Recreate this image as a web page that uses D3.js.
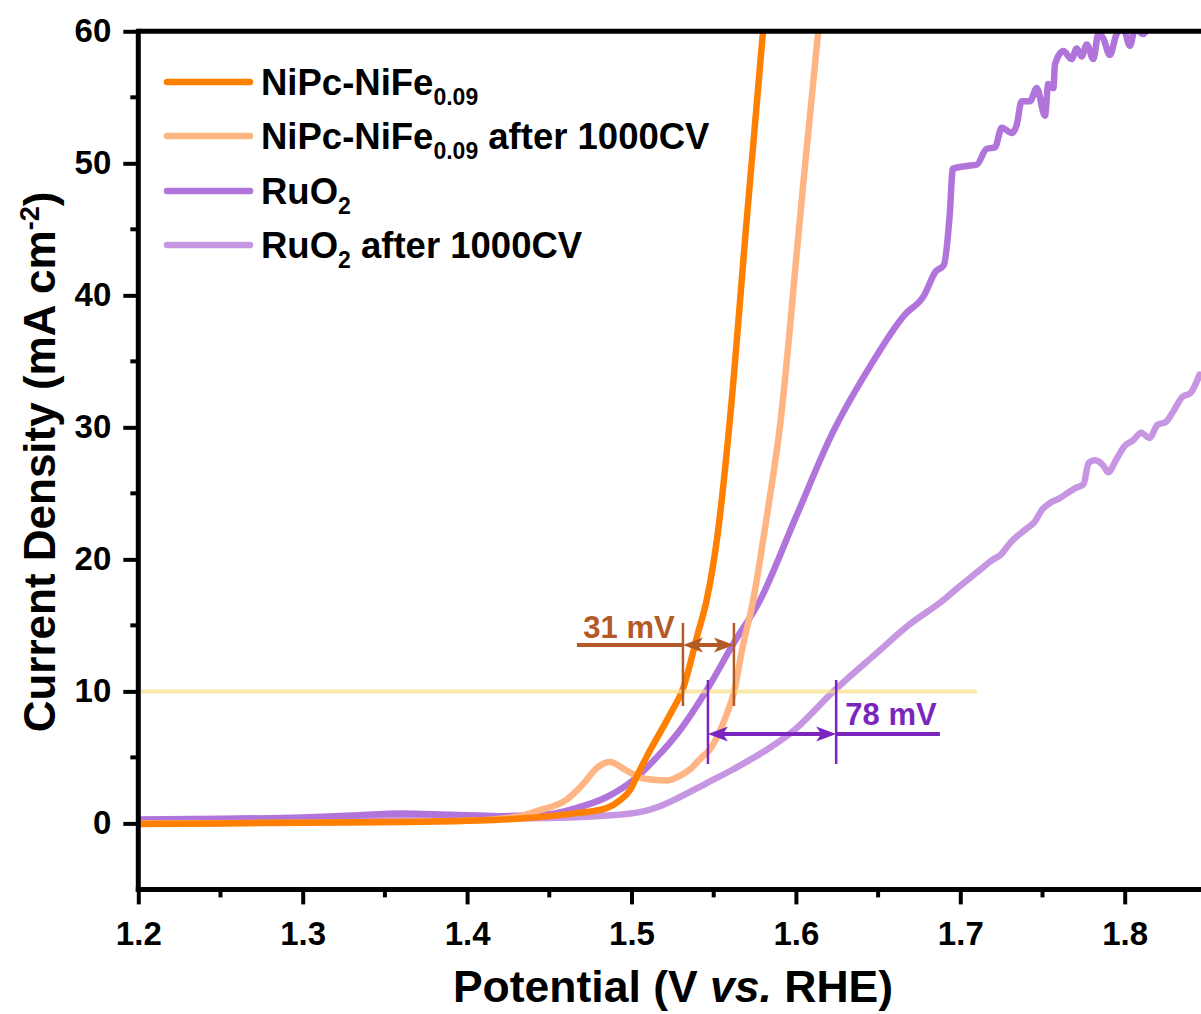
<!DOCTYPE html>
<html>
<head>
<meta charset="utf-8">
<script src="https://cdn.jsdelivr.net/npm/d3@7"></script>
<style>
  html, body { margin: 0; padding: 0; background: #fff; }
  svg { display: block; }
  text { font-family: "Liberation Sans", Arial, sans-serif; font-weight: bold; fill: #000; }
</style>
</head>
<body>
<svg id="chart" width="1201" height="1014"></svg>
<script>
// LSV polarization curves: potential (V vs. RHE) and current density (mA cm^-2)
const seriesNames = ["NiPc-NiFe", "NiPc-NiFe after 1000CV", "RuO2", "RuO2 after 1000CV"];

const nipcV = [1.20, 1.25, 1.30, 1.35, 1.40, 1.43, 1.45, 1.465, 1.48, 1.485, 1.493, 1.499, 1.503, 1.509, 1.517, 1.525, 1.531, 1.5404, 1.5457, 1.5525, 1.5598, 1.570, 1.580, 1.585];
const nipcJ = [-0.05, 0.0, 0.05, 0.1, 0.2, 0.35, 0.55, 0.76, 1.0, 1.16, 1.76, 2.5, 3.5, 5.0, 6.8, 8.6, 10.1, 14.4, 16.9, 22.0, 30.5, 45.6, 60.0, 67.0];

const nipcCvV = [1.20, 1.30, 1.40, 1.43, 1.444, 1.4606, 1.4707, 1.4789, 1.4869, 1.497, 1.5072, 1.5214, 1.5295, 1.5356, 1.5427, 1.5477, 1.553, 1.558, 1.5625, 1.567, 1.574, 1.582, 1.5907, 1.6023, 1.6136, 1.618];
const nipcCvJ = [0.0, 0.05, 0.2, 0.5, 1.0, 1.8, 3.0, 4.2, 4.65, 4.0, 3.4, 3.25, 3.6, 4.1, 5.0, 5.6, 6.8, 8.3, 10.0, 13.0, 16.9, 23.0, 30.5, 45.6, 60.0, 65.0];

const ruV = [1.20, 1.25, 1.30, 1.33, 1.36, 1.39, 1.42, 1.45, 1.4646, 1.485, 1.501, 1.5153, 1.5295, 1.5457, 1.5619, 1.5782, 1.60, 1.622, 1.645, 1.666, 1.678, 1.685, 1.690, 1.6935, 1.6955,
  1.7039, 1.710, 1.716, 1.7211, 1.7252, 1.7313, 1.7343, 1.7373, 1.7424, 1.7465, 1.7515, 1.7535, 1.7566, 1.7576, 1.7627, 1.7677, 1.7708, 1.7738, 1.7769, 1.7809, 1.784, 1.7868, 1.791, 1.7951, 1.7991, 1.8032, 1.8063, 1.8113, 1.8143];
const ruJ = [0.3, 0.35, 0.45, 0.6, 0.75, 0.65, 0.55, 0.7, 1.1, 2.0, 3.27, 5.0, 7.06, 10.08, 13.6, 16.9, 23.2, 29.5, 34.6, 38.5, 40.0, 41.8, 42.3, 46.0, 49.6,
  49.8, 49.9, 51.1, 51.2, 52.7, 52.3, 52.9, 54.7, 54.7, 55.7, 53.6, 56.0, 55.7, 57.5, 58.5, 57.9, 58.7, 58.1, 59.0, 57.9, 59.8, 59.5, 58.2, 59.8, 60.2, 58.9, 60.2, 59.8, 60.5];

const ruCvV = [1.20, 1.30, 1.40, 1.45, 1.48, 1.505, 1.5173, 1.5295, 1.545, 1.5619, 1.58, 1.5984, 1.6228, 1.6491, 1.6694, 1.6896,
  1.70, 1.71, 1.72, 1.725, 1.73, 1.74, 1.745, 1.75, 1.755, 1.76, 1.765, 1.77, 1.775, 1.778, 1.782, 1.787, 1.79, 1.795, 1.80, 1.805, 1.81, 1.815, 1.82, 1.825, 1.83, 1.835, 1.84, 1.8456];
const ruCvJ = [0.25, 0.3, 0.35, 0.4, 0.55, 0.85, 1.3, 2.0, 3.0, 4.1, 5.4, 7.0, 10.0, 12.9, 15.1, 16.9,
  18.0, 19.0, 20.0, 20.4, 21.2, 22.3, 22.8, 23.8, 24.3, 24.6, 25.0, 25.4, 25.7, 27.3, 27.5, 27.1, 26.6, 27.6, 28.6, 29.0, 29.6, 29.2, 30.2, 30.4, 31.3, 32.3, 32.6, 34.0];

const xTicks = [1.2, 1.3, 1.4, 1.5, 1.6, 1.7, 1.8];
const yTicks = [0, 10, 20, 30, 40, 50, 60];
const refCurrent = 10;
// overpotential gaps at 10 mA cm^-2
const gapNiPc = { from: 1.5313, to: 1.5623, label: "31 mV" };
const gapRu = { from: 1.5465, to: 1.6245, label: "78 mV" };

const colors = ["#FF8000", "#FFB583", "#B174DB", "#C796E3"];

const svg = d3.select("#chart");
const defs = svg.append("defs");
const margin = { left: 138.3, top: 31.3, bottom: 889.4 };
const x = d3.scaleLinear().domain([1.2, 1.85]).range([margin.left, margin.left + 0.65 * 1644]);
const y = d3.scaleLinear().domain([-5, 60]).range([margin.bottom, margin.top]);

defs.append("clipPath").attr("id", "plot-clip")
  .append("rect").attr("x", x(1.2)).attr("y", y(60)).attr("width", x(1.85) - x(1.2)).attr("height", y(-5) - y(60));

const line = d3.line().x(d => x(d[0])).y(d => y(d[1])).curve(d3.curveMonotoneX);

const series = [
  [ruCvV, ruCvJ, colors[3]],
  [ruV, ruJ, colors[2]],
  [nipcCvV, nipcCvJ, colors[1]],
  [nipcV, nipcJ, colors[0]]
];
const plot = svg.append("g").attr("clip-path", "url(#plot-clip)");
series.forEach(([vs, js, c]) => {
  plot.append("path")
    .datum(vs.map((v, i) => [v, js[i]]))
    .attr("d", line)
    .attr("fill", "none")
    .attr("stroke", c)
    .attr("stroke-width", 6.5)
    .attr("stroke-linejoin", "round")
    .attr("stroke-linecap", "round");
});

// reference line at 10 mA cm^-2
svg.append("line")
  .attr("x1", x(1.2)).attr("x2", x(1.71))
  .attr("y1", y(refCurrent)).attr("y2", y(refCurrent))
  .attr("stroke", "#F6DE86").attr("stroke-opacity", 0.7).attr("stroke-width", 4);

// notched arrowhead with its tip at (tx, ty), pointing in direction dir (+1 right, -1 left)
function arrowHead(g, tx, ty, dir, color) {
  const L = 20, H = 7.5, N = 5;
  g.append("path")
    .attr("d", `M${tx},${ty} L${tx - dir * L},${ty - H} L${tx - dir * (L - N)},${ty} L${tx - dir * L},${ty + H} Z`)
    .attr("fill", color);
}

function gapAnnotation(g, color, yArrow, yTop, yBottom, tail, labelPos) {
  const a = svg.append("g");
  [g.from, g.to].forEach(v => a.append("line")
    .attr("x1", x(v)).attr("x2", x(v)).attr("y1", yTop).attr("y2", yBottom)
    .attr("stroke", color).attr("stroke-width", 2.5));
  a.append("line")
    .attr("x1", x(g.from) + 6).attr("x2", x(g.to) - 6).attr("y1", yArrow).attr("y2", yArrow)
    .attr("stroke", color).attr("stroke-width", 4);
  arrowHead(a, x(g.from), yArrow, -1, color);
  arrowHead(a, x(g.to), yArrow, 1, color);
  a.append("line")
    .attr("x1", x(tail[0])).attr("x2", x(tail[1])).attr("y1", yArrow).attr("y2", yArrow)
    .attr("stroke", color).attr("stroke-width", 4);
  a.append("text").attr("x", labelPos[0]).attr("y", labelPos[1])
    .attr("text-anchor", "middle").style("font-size", "31px").style("fill", color)
    .text(g.label);
}
gapAnnotation(gapNiPc, "#B35A27", 645, 623, 706, [1.4668, gapNiPc.from], [629, 638]);
gapAnnotation(gapRu, "#7A26BD", 734, 680, 764, [gapRu.to, 1.6876], [891, 725]);

// axes frame
const axisW = 5;
svg.append("line").attr("x1", x(1.2)).attr("x2", 1201).attr("y1", y(60)).attr("y2", y(60))
  .attr("stroke", "#000").attr("stroke-width", axisW);

const xAxis = d3.axisBottom(x).tickValues(xTicks).tickFormat(d3.format(".1f")).tickSizeInner(15).tickSizeOuter(0).tickPadding(17);
const gx = svg.append("g").attr("transform", `translate(0,${y(-5)})`).call(xAxis);
gx.select(".domain").attr("stroke-width", axisW).attr("d", `M${x(1.2) - 2.5},0H1201`);
gx.selectAll(".tick line").attr("stroke-width", 4);
gx.selectAll(".tick text").style("font-size", "33px").style("font-family", "Liberation Sans, Arial, sans-serif").style("font-weight", "bold");
const xMinor = d3.range(1.25, 1.85, 0.1);
gx.selectAll(".minor").data(xMinor).enter().append("line")
  .attr("x1", d => x(d)).attr("x2", d => x(d)).attr("y1", 0).attr("y2", 8)
  .attr("stroke", "#000").attr("stroke-width", 4);

const yAxis = d3.axisLeft(y).tickValues(yTicks).tickSizeInner(15).tickSizeOuter(0).tickPadding(12);
const gy = svg.append("g").attr("transform", `translate(${x(1.2)},0)`).call(yAxis);
gy.select(".domain").attr("stroke-width", axisW).attr("d", `M0,${y(60) - 2.5}V${y(-5) + 2.5}`);
gy.selectAll(".tick line").attr("stroke-width", 4);
gy.selectAll(".tick text").style("font-size", "33px").style("font-family", "Liberation Sans, Arial, sans-serif").style("font-weight", "bold");
const yMinor = d3.range(5, 60, 10);
gy.selectAll(".minor").data(yMinor).enter().append("line")
  .attr("x1", 0).attr("x2", -8).attr("y1", d => y(d)).attr("y2", d => y(d))
  .attr("stroke", "#000").attr("stroke-width", 4);

// axis titles
const xt = svg.append("text").attr("x", 673).attr("y", 1002).attr("text-anchor", "middle").style("font-size", "44.5px");
xt.append("tspan").text("Potential (V ");
xt.append("tspan").style("font-style", "italic").text("vs.");
xt.append("tspan").text(" RHE)");

const yt = svg.append("text").attr("transform", "translate(55,462) rotate(-90)").attr("text-anchor", "middle").style("font-size", "44px");
yt.append("tspan").text("Current Density (mA cm");
yt.append("tspan").attr("dy", -16).style("font-size", "27px").text("-2");
yt.append("tspan").attr("dy", 16).text(")");

// legend
const legendRows = [
  { color: colors[0], parts: [["NiPc-NiFe", 0], ["0.09", 1]] },
  { color: colors[1], parts: [["NiPc-NiFe", 0], ["0.09", 1], [" after 1000CV", 0]] },
  { color: colors[2], parts: [["RuO", 0], ["2", 1]] },
  { color: colors[3], parts: [["RuO", 0], ["2", 1], [" after 1000CV", 0]] }
];
const legendY = [82, 136, 191, 245];
legendRows.forEach((r, i) => {
  svg.append("line").attr("x1", 167).attr("x2", 250).attr("y1", legendY[i]).attr("y2", legendY[i])
    .attr("stroke", r.color).attr("stroke-width", 6.5).attr("stroke-linecap", "round");
  const t = svg.append("text").attr("x", 261).attr("y", legendY[i] + 13).style("font-size", "36.5px");
  let sub = false;
  r.parts.forEach(([s, isSub]) => {
    const ts = t.append("tspan").text(s);
    if (isSub && !sub) { ts.attr("dy", 10).style("font-size", "23px"); sub = true; }
    else if (!isSub && sub) { ts.attr("dy", -10); sub = false; }
  });
});
</script>
</body>
</html>
